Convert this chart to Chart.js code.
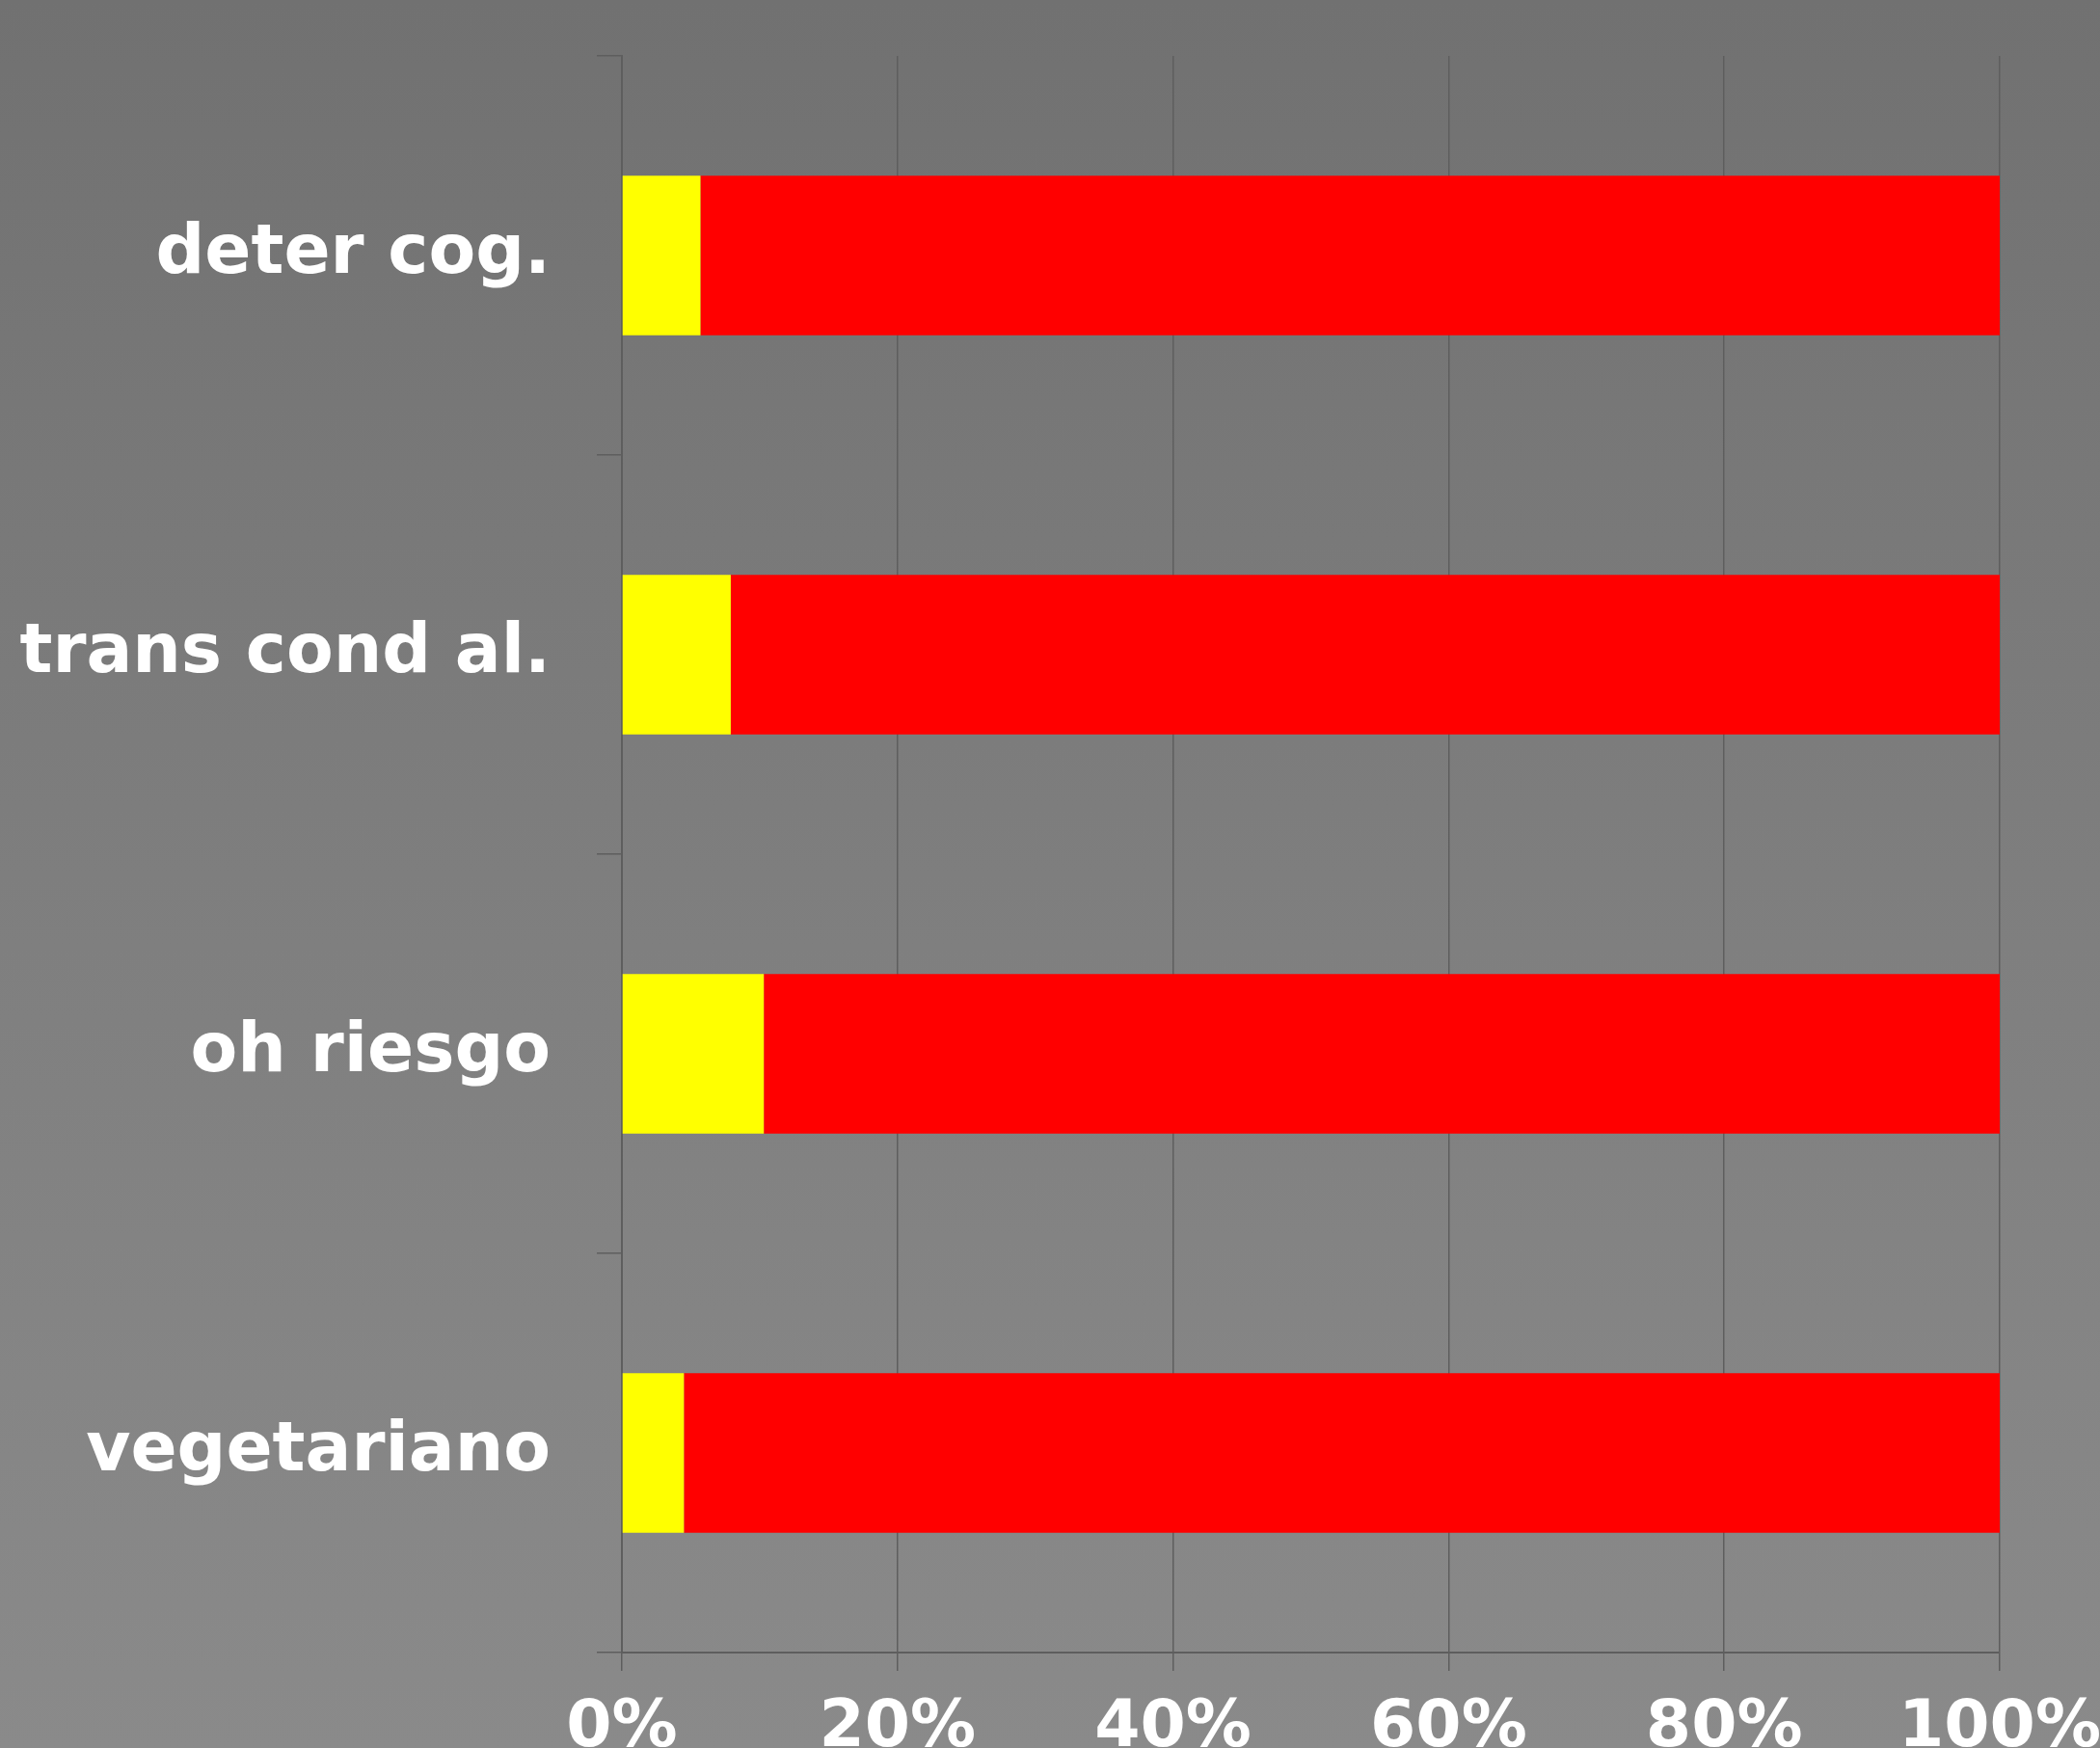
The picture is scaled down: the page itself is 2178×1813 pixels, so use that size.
<!DOCTYPE html>
<html>
<head>
<meta charset="utf-8">
<script src="https://cdn.jsdelivr.net/npm/chart.js@4"></script>
<style>
    html, body {
        margin: 0;
        padding: 0;
        overflow: hidden;
    }
    body {
        width: 2178px;
        height: 1813px;
        background: linear-gradient(to bottom, #717171 0%, #7e7e7e 50%, #8a8a8a 100%);
    }
    #chartBox {
        position: absolute;
        left: 0;
        top: 0;
        width: 2178px;
        height: 1813px;
    }
</style>
</head>
<body>
<div id="chartBox"><canvas id="riskChart"></canvas></div>
<script>
const categories = ['deter cog.', 'trans cond al.', 'oh riesgo', 'vegetariano'];
const yellowValues = [5.7, 7.9, 10.3, 4.5];
const redValues = [94.3, 92.1, 89.7, 95.5];
const xTicks = [0, 20, 40, 60, 80, 100];

const gridColor = '#5e5e5e';
const labelFont = {family: 'DejaVu Sans', weight: 'bold', size: 71};

const graph = document.getElementById('riskChart').getContext('2d');

new Chart(graph, {
    type: 'bar',
    data: {
        labels: categories,
        datasets: [
            {
                label: 'si',
                data: yellowValues,
                backgroundColor: '#ffff00',
                borderWidth: 0
            },
            {
                label: 'no',
                data: redValues,
                backgroundColor: '#ff0000',
                borderWidth: 0
            }
        ]
    },
    options: {
        indexAxis: 'y',
        responsive: true,
        maintainAspectRatio: false,
        animation: false,
        devicePixelRatio: 1,
        layout: {
            padding: {top: 58, right: 104, left: 0, bottom: 0}
        },
        datasets: {
            bar: {barPercentage: 0.4, categoryPercentage: 1.0}
        },
        plugins: {
            legend: {display: false},
            tooltip: {enabled: false}
        },
        scales: {
            x: {
                stacked: true,
                min: 0,
                max: 100,
                afterBuildTicks: function (scale) {
                    scale.ticks = xTicks.map(v => ({value: v}));
                },
                afterFit: function (scale) {
                    scale.height = 99;
                    scale.paddingLeft = 0;
                    scale.paddingRight = 0;
                },
                ticks: {
                    color: '#ffffff',
                    font: {family: 'DejaVu Sans', weight: 'bold', size: 68},
                    padding: 20,
                    maxRotation: 0,
                    autoSkip: false,
                    callback: v => v + '%'
                },
                grid: {
                    color: gridColor,
                    lineWidth: 1.5,
                    tickLength: 19
                },
                border: {color: gridColor, width: 2}
            },
            y: {
                stacked: true,
                afterFit: function (scale) {
                    scale.width = 645;
                    scale.paddingTop = 0;
                    scale.paddingBottom = 0;
                },
                ticks: {
                    color: '#ffffff',
                    font: labelFont,
                    padding: 48
                },
                grid: {
                    offset: true,
                    drawOnChartArea: false,
                    color: gridColor,
                    lineWidth: 1.5,
                    tickLength: 26
                },
                border: {color: gridColor, width: 2}
            }
        }
    }
});
</script>
</body>
</html>
